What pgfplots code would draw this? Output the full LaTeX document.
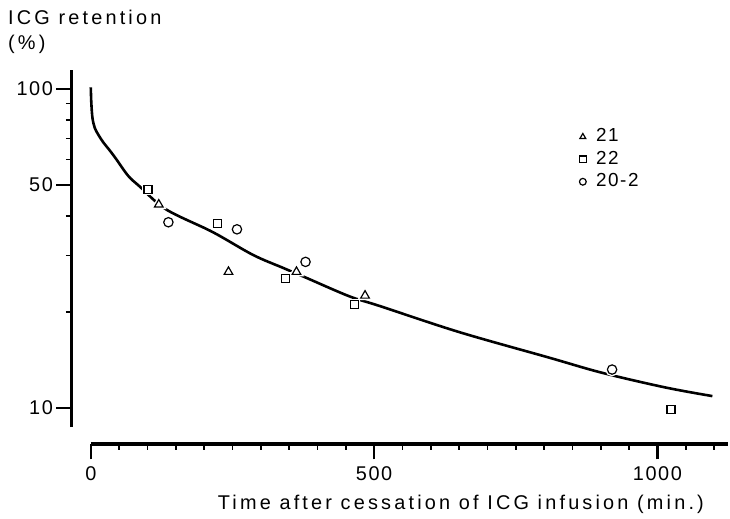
\documentclass[border=0pt]{standalone}
\usepackage{pgfplots}
\pgfplotsset{compat=1.18}
\usepackage{fontspec}
\setmainfont{Liberation Sans}
\newfontfamily\lsfamily{Liberation Sans}[LetterSpace=16]
\newfontfamily\tkfamily{Liberation Sans}[LetterSpace=8]
\newcommand\lsfont{\lsfamily\fontsize{20}{24}\selectfont}
\newcommand\tkfont{\tkfamily\fontsize{20}{24}\selectfont}
\newcommand\lgfont{\tkfamily\fontsize{19}{22.5}\selectfont}
\begin{document}
\begin{tikzpicture}
\path (-72bp,-75bp) rectangle (658bp,445bp);
\begin{axis}[
  at={(0,0)}, anchor=south west,
  scale only axis, width=658bp, height=375bp,
  xmin=-33.45, xmax=1125,
  ymode=log, ymin=7.72, ymax=114.7,
  axis x line*=bottom, axis y line*=left,
  axis line style={draw=none},
  tick align=outside,
  xtick={0,500,1000}, xticklabels={0,500,1000},
  minor xtick={50,100,...,1100},
  ytick={10,50,100}, yticklabels={10,50,100},
  minor ytick={20,30,40,60,70,80,90},
  major tick length=15.5bp, minor tick length=6bp,
  every major tick/.append style={line width=2.5bp, black},
  every minor tick/.append style={line width=1.5bp, black},
  tick label style={font=\tkfont},
  xticklabel style={yshift=-4bp},
  clip=false,
  legend style={draw=none, fill=none, at={(0.773,0.848)}, anchor=north west,
    inner sep=0pt, font=\lgfont, row sep=2.5bp,
    nodes={inner sep=1bp, text height=14bp, text depth=4bp},
    /tikz/every odd column/.append style={column sep=9bp}},
  legend cell align=left,
  legend image code/.code={\draw[#1, mark size=3.4bp] plot coordinates {(0.15cm,0cm)};},
]
\draw[line width=3bp] (axis cs:-33.45,8.72) -- (axis cs:-33.45,114.7);
\draw[line width=3.5bp] (axis cs:0,7.72) -- (axis cs:1125,7.72);
% fitted curve
\addplot[black, line width=2.6bp, smooth, tension=0.55, forget plot] coordinates {
 (0,101) (1,90) (3,81) (7,75.5) (13,72) (22,68) (33,64.3) (45,60.2) (66,53.4) (86,49.5)
 (133,41.9) (215,35.6) (286,30.2) (339,27.5) (380,25.6) (456,22.4) (509,20.9)
 (650,17.3) (808,14.4) (902,12.9) (1014,11.6) (1097,10.9)};
% white halos
\addplot[only marks, mark=triangle*, mark size=5bp, draw=white, fill=white, line width=4bp, forget plot] coordinates {
 (120,43.4) (243,26.7) (363,26.7) (484,22.5)};
\addplot[only marks, mark=square*, mark size=4bp, draw=white, fill=white, line width=4bp, forget plot] coordinates {
 (101,48.4) (223,37.9) (343,25.5) (465,21.1) (1024,9.9)};
\addplot[only marks, mark=*, mark size=4.7bp, draw=white, fill=white, line width=4bp, forget plot] coordinates {
 (137,38.2) (258,36.3) (379,28.7) (920,13.2)};
% data
\addplot[only marks, mark=triangle, mark size=5bp, black, line width=1.2bp] coordinates {
 (120,43.4) (243,26.7) (363,26.7) (484,22.5)};
\addlegendentry{21}
\addplot[only marks, mark=square, mark size=4bp, black, line width=1.2bp] coordinates {
 (101,48.4) (223,37.9) (343,25.5) (465,21.1) (1024,9.9)};
\addlegendentry{22}
\addplot[only marks, mark=o, mark size=4.7bp, black, line width=1.2bp] coordinates {
 (137,38.2) (258,36.3) (379,28.7) (920,13.2)};
\addlegendentry{20-2}
\end{axis}
\node[anchor=base west, font=\lsfont, inner sep=0pt] at (-64bp,420bp) {ICG retention};
\node[anchor=base west, font=\lsfont, inner sep=0pt] at (-64bp,395bp) {(\%)};
\node[anchor=base, font=\lsfont, inner sep=0pt] at (390bp,-66bp) {Time after cessation of ICG infusion (min.)};
\end{tikzpicture}
\end{document}
